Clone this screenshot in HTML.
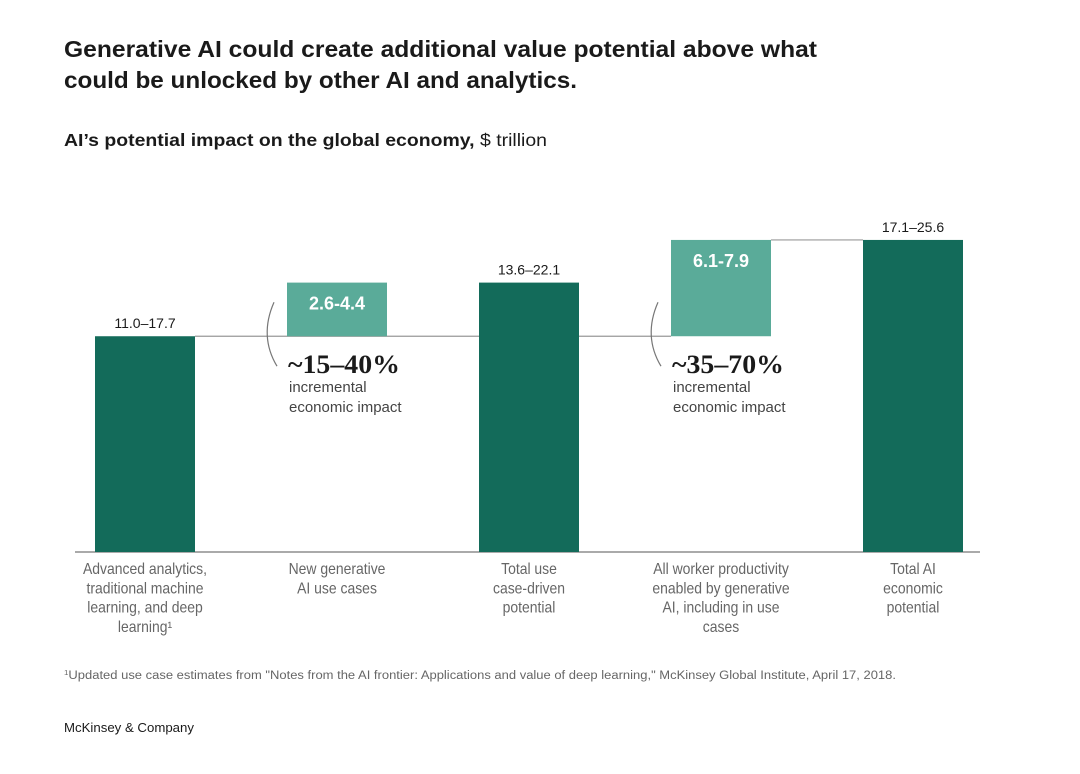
<!DOCTYPE html>
<html><head><meta charset="utf-8"><style>
body{margin:0;background:#fff;width:1080px;height:774px;overflow:hidden;font-family:"Liberation Sans",sans-serif}
svg{position:absolute;left:0;top:0}
</style></head><body>
<svg width="1080" height="774">
<text x="64" y="57" font-size="23" font-weight="bold" fill="#1a1a1a" textLength="753" lengthAdjust="spacingAndGlyphs">Generative AI could create additional value potential above what</text>
<text x="64" y="88" font-size="23" font-weight="bold" fill="#1a1a1a" textLength="513" lengthAdjust="spacingAndGlyphs">could be unlocked by other AI and analytics.</text>
<text x="64" y="146" font-size="17.5" fill="#1a1a1a" textLength="483" lengthAdjust="spacingAndGlyphs"><tspan font-weight="bold">AI’s potential impact on the global economy,</tspan> $ trillion</text>
<g id="plot"></g>
<text x="64" y="679" font-size="11.5" fill="#666" textLength="832" lengthAdjust="spacingAndGlyphs"><tspan font-size="7" dy="-4">1</tspan><tspan dy="4">Updated use case estimates from "Notes from the AI frontier: Applications and value of deep learning," McKinsey Global Institute, April 17, 2018.</tspan></text>
<text x="64" y="732" font-size="12.5" fill="#1a1a1a" textLength="130" lengthAdjust="spacingAndGlyphs">McKinsey &amp; Company</text>
</svg>
<script>
const categories=[["Advanced analytics,","traditional machine","learning, and deep","learning¹"],["New generative","AI use cases"],["Total use","case-driven","potential"],["All worker productivity","enabled by generative","AI, including in use","cases"],["Total AI","economic","potential"]];
const bases=[0,17.7,0,17.7,0];
const highs=[17.7,4.4,22.1,7.9,25.6];
const valueLabels=["11.0–17.7","2.6-4.4","13.6–22.1","6.1-7.9","17.1–25.6"];
const floating=[false,true,false,true,false];
const pctLabels=["~15–40%","~35–70%"];
const NS="http://www.w3.org/2000/svg";
const g=document.getElementById('plot');
const y0=552,k=12.19,bw=100;
const y=v=>y0-v*k;
const xc=i=>145+i*192;
function el(t,a,txt){const e=document.createElementNS(NS,t);for(const n in a)e.setAttribute(n,a[n]);if(txt!=null)e.textContent=txt;g.appendChild(e);return e;}
const l1=el('line',{x1:xc(0)+bw/2,x2:xc(3)-bw/2,y1:y(17.7),y2:y(17.7),stroke:'#999','stroke-width':1.2});


const l2=el('line',{x1:xc(3)+bw/2,x2:xc(4)-bw/2,y1:y(bases[3]+highs[3]),y2:y(bases[3]+highs[3]),stroke:'#999','stroke-width':1.2});


const ax=el('line',{x1:75,x2:980,y1:y0,y2:y0,stroke:'#777','stroke-width':1.3});


categories.forEach((c,i)=>{
  const top=y(bases[i]+highs[i]),bot=y(bases[i]);
  const r=el('rect',{x:xc(i)-bw/2,y:top,width:bw,height:bot-top,fill:floating[i]?'#5aab99':'#136b5a'});
  
  
  let t;
  if(floating[i]){
    t=el('text',{x:xc(i),y:top+27,'text-anchor':'middle','font-size':18,'font-weight':'bold',fill:'#fff'},valueLabels[i]);
  }else{
    t=el('text',{x:xc(i),y:top-8,'text-anchor':'middle','font-size':14,fill:'#1a1a1a'},valueLabels[i]);
  }
  
  
  c.forEach((ln,j)=>{
    const ct=el('text',{x:0,y:y0+22+j*19.3,'text-anchor':'middle','font-size':15.5,fill:'#666',transform:`translate(${xc(i)},0) scale(0.9,1)`},ln);
    
    
  });
});
[1,3].forEach((i,n)=>{
  const x=xc(i)-bw/2;
  const arc=el('path',{d:`M${x-13} ${y(17.7)-34} Q${x-28} ${y(17.7)} ${x-10} ${y(17.7)+30}`,fill:'none',stroke:'#777','stroke-width':1.2});
  
  
  const p=el('text',{x:x+1,y:y(17.7)+37,'font-size':26,'font-weight':'bold',fill:'#1a1a1a','font-family':"'Liberation Serif',serif",textLength:112,lengthAdjust:'spacingAndGlyphs'},pctLabels[n]);
  
  
  ['incremental','economic impact'].forEach((s,j)=>{
    const tt=el('text',{x:x+2,y:y(17.7)+56+j*20,'font-size':15,fill:'#444'},s);
    
    
  });
});
</script>
</body></html>
